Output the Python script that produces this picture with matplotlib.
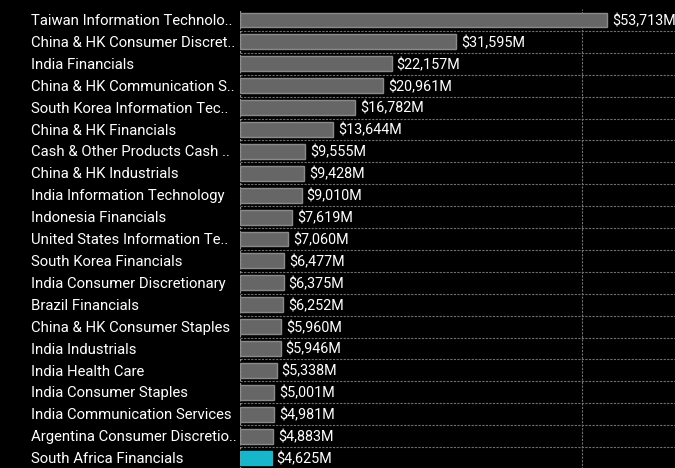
import matplotlib
matplotlib.use("Agg")
import matplotlib.pyplot as plt
import matplotlib.transforms as mtransforms

categories = [
    "Taiwan Information Technolo..",
    "China & HK Consumer Discret..",
    "India Financials",
    "China & HK Communication S..",
    "South Korea Information Tec..",
    "China & HK Financials",
    "Cash & Other Products Cash ..",
    "China & HK Industrials",
    "India Information Technology",
    "Indonesia Financials",
    "United States Information Te..",
    "South Korea Financials",
    "India Consumer Discretionary",
    "Brazil Financials",
    "China & HK Consumer Staples",
    "India Industrials",
    "India Health Care",
    "India Consumer Staples",
    "India Communication Services",
    "Argentina Consumer Discretio..",
    "South Africa Financials",
]
values = [53713, 31595, 22157, 20961, 16782, 13644, 9555, 9428, 9010, 7619,
          7060, 6477, 6375, 6252, 5960, 5946, 5338, 5001, 4981, 4883, 4625]
highlight = "South Africa Financials"

FONT = ["Roboto", "DejaVu Sans"]

W, H = 675, 468
fig = plt.figure(figsize=(W / 100, H / 100), dpi=100, facecolor="black")
n = len(categories)
ax_left, ax_top, ax_bottom = 240, 9, 469
ax = fig.add_axes([ax_left / W, 1 - ax_bottom / H, (W - ax_left) / W, (ax_bottom - ax_top) / H])
ax.set_facecolor("black")

ys = list(range(n))
colors = ["#17b6cb" if c == highlight else "#666666" for c in categories]
edges = ["#17b6cb" if c == highlight else "#8a8a8a" for c in categories]
ax.barh(ys, values, height=0.68, color=colors, edgecolor=edges, linewidth=1, zorder=3)

ax.set_ylim(n - 0.5, -0.5)
ax.set_xlim(0, 63600)

for i in range(n - 1):
    ax.axhline(i + 0.5, color="#707070", linestyle=(0, (2, 1.2)), linewidth=0.8, zorder=1)
ax.axvline(50000, color="#707070", linestyle=(0, (2, 1.2)), linewidth=0.8, zorder=1)
ax.axvline(0, color="#909090", linestyle=(0, (2, 1.2)), linewidth=0.9, zorder=4)

for s in ax.spines.values():
    s.set_visible(False)
ax.set_xticks([])
ax.set_yticks([])

for y, v in zip(ys, values):
    ax.annotate(f"${v:,}M", (v, y), xytext=(3.6, -0.8), textcoords="offset points",
                va="center", ha="left", color="white", fontsize=10.4,
                family=FONT, annotation_clip=False)

label_tr = mtransforms.blended_transform_factory(fig.transFigure, ax.transData)
label_tr = label_tr + mtransforms.ScaledTranslation(0, -0.8 / 72, fig.dpi_scale_trans)
for y, c in zip(ys, categories):
    ax.text(31 / W, y, c, transform=label_tr,
            va="center", ha="left", color="white", fontsize=10.7, family=FONT)

fig.savefig("out.png", dpi=100, facecolor="black")
